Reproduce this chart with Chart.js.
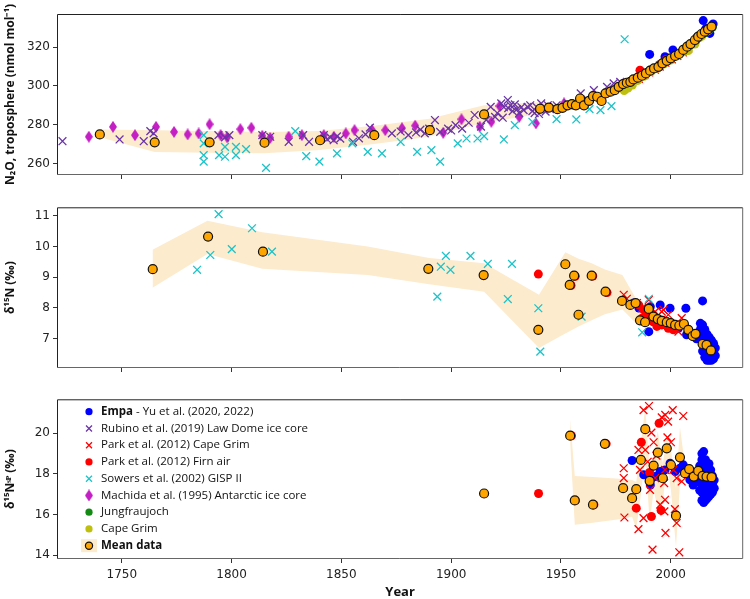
<!DOCTYPE html>
<html>
<head>
<meta charset="utf-8">
<script src="https://cdn.jsdelivr.net/npm/chart.js@4.4.1/dist/chart.umd.min.js"></script>
<style>
  html, body { margin: 0; padding: 0; background: #fff; }
  #wrap { position: relative; width: 750px; height: 599px; }
  canvas { position: absolute; left: 0; }
</style>
</head>
<body>
<div id="wrap">
  <canvas id="c1" width="750" height="195" style="top:0px"></canvas>
  <canvas id="c2" width="750" height="190" style="top:195px"></canvas>
  <canvas id="c3" width="750" height="214" style="top:385px"></canvas>
</div>
<script>
// ---- shared axis ----
const X_MIN = 1720.5, X_MAX = 2033;
const yearTicks = [1750, 1800, 1850, 1900, 1950, 2000];

// ---- panel 1: N2O mole fraction ----
const n2oTicks = [260, 280, 300, 320];
const n2oMean = [[1740,275],[1765,270.9],[1790,270.9],[1815,270.7],[1840.3,272],[1865,274.6],[1890.3,277.2],[1915,285.3],
  [1940.5,288.2],[1944.5,288.8],[1948.4,288],[1950.7,288.7],[1953,290],[1955,290.6],[1956.8,290],[1958.7,293.5],[1960.5,290],
  [1962.8,292.3],[1964.6,294.7],[1966.5,294.4],[1968.5,292.2],[1970.3,296.1],[1972.6,297],[1974.5,297.8],[1976.3,299.5],
  [1978.3,300.9],[1980,301.6],[1981.6,302.1],[1983,303.3],[1985,304.2],[1986.9,305.2],[1988.7,306.4],[1990.6,307.8],
  [1992.4,309],[1994.4,309.8],[1996.2,311.6],[1998.2,312.9],[2000,314.2],[2002,315.4],[2003.8,316.4],[2005.7,318.5],
  [2007.5,320.2],[2009,321.5],[2011,323.6],[2012.5,325.3],[2014,326.7],[2015.5,327.9],[2017,329.1],[2018.6,330.5]];
const n2oBandYear  = [1740, 1765, 1790, 1815, 1840, 1865, 1890, 1915, 1940, 1950, 1960, 1970, 1980, 1990, 2000, 2010, 2019];
const n2oBandLow   = [273.5, 266, 265.5, 265.3, 267, 270, 273.8, 281, 285.5, 286.5, 288.5, 294.5, 300, 306, 313, 321.5, 329];
const n2oBandHigh  = [277.5, 277.2, 276.8, 276.3, 276.8, 279.5, 283, 290, 291.5, 291, 293.5, 298, 303.5, 309.5, 315.5, 324, 332];
const n2oRubino = [[1723,271.5],[1749,272.4],[1760,271.5],[1763,276.7],[1764.5,275.5],[1794,274.6],[1797,273.5],[1799,274.6],
  [1814,274.6],[1817.6,273.8],[1826,271.2],[1832.6,274.6],[1835.3,271.2],[1842,274.6],[1843.5,272.5],[1845,273.5],[1846.5,272],
  [1848,274],[1849.5,272.8],[1855.3,271.2],[1858,273],[1861,275],[1863,278.5],[1873,275.5],[1877,276.5],[1880.5,274.6],
  [1884,276],[1886,277.5],[1888,275.5],[1890,278],[1892.6,282.4],[1895,276.3],[1898.6,278],[1900,277],[1902,279.8],[1905,278],
  [1908,281],[1910.7,285],[1913.6,279],[1916,282.5],[1918,289.2],[1920,284],[1921,286],[1922.8,291],[1923.5,283.6],[1924,289],
  [1925.8,292.7],[1926,288.5],[1927,290],[1928,287],[1929,290.5],[1930,288],[1931,286],[1932,289],[1933,287.5],[1934.8,289.2],
  [1936,290],[1937,287],[1938,286],[1939,289],[1940,285.5],[1941,291],[1942,288.5],[1943,286.7],[1944,290],[1945,288],
  [1948,290],[1953,291],[1959,296.1],[1962,293],[1965,297.8],[1968,294],[1971,299.5],[1974,301.3],[1977,302]];
const n2oMachida = [[1735,273.8],[1746,278.9],[1756,274.6],[1765.6,278.9],[1773.8,276.3],[1780,275],[1785,275.5],[1790,280.2],
  [1795,274.6],[1798,273.5],[1804,277.7],[1809,278.4],[1814,274.3],[1817.6,273.2],[1826,273.8],[1832,274.6],[1842,274.6],
  [1846.6,273.8],[1852,275.5],[1856,277.2],[1864,277.2],[1870,277.2],[1877.6,278.2],[1883.6,279.5],[1896.4,275.8],
  [1904.7,282.8],[1913,279],[1918.3,281.5],[1922,289.6],[1931,284],[1938.6,280.7],[1951.4,291]];
const n2oSowers = [[1787.3,274.6],[1787.3,270.4],[1787.3,264.3],[1787.3,261],[1794.3,264.3],[1797,268.6],[1797,263.5],
  [1802,268.6],[1802,264.3],[1806.6,267.4],[1815.7,257.8],[1829,276.7],[1834,263.8],[1840,261],[1848,265.2],[1855,270.4],
  [1862,266],[1868.5,265.2],[1877,271.2],[1884.5,266],[1891,266.9],[1895,261],[1903,270.4],[1907,272.9],[1912,272.9],
  [1915,274.1],[1924,272.4],[1929,279.8],[1937,281.5],[1948,282.9],[1957,282.7],[1963,288],[1968,287.5],[1973,289.6],[1979,324]];
const n2oParkCG = [[1978.8,300.2],[1982,301.5],[1985.5,303.6],[1988,305.5],[1990.2,306.9],[1992.8,308.3],[1995,309.9],
  [1997.6,311.9],[2000.5,313.6],[2003,315.4],[2005.5,317.2],[2008,319.2]];
const n2oParkFirn = [[1940.6,288.5],[1955.5,290.2],[1970.8,296.2],[1986,308.1],[1990.8,308.2],[1995,311],[1998,313.6]];
const n2oEmpa = [[1990.4,316.2],[1997.4,315],[2001,318.5],[2012,325],[2014.8,333.6],[2016,329.5],[2017.8,327],[2019.3,331.9]];
const n2oJungfrau = [[2005.2,317.6],[2006.8,319.1],[2008.3,320.4],[2009.8,321.7],[2011.3,323.1],[2012.9,324.9],[2014.4,326.3],
  [2015.9,327.5],[2017.4,328.8],[2018.9,330.2]];
const n2oCapeGrim = [[1978.8,297.6],[1980.5,298.8],[1982.5,300.4],[1985,302.8],[1988,305],[1991,307.3],[1994,309.2],
  [1997,311.3],[2000,313.3],[2003,315.5],[2006,317.6],[2008,318.2],[2011,321.5],[2014,325.5],[2017,328.5]];

// ---- panel 2: d15N ----
const d15Ticks = [7, 8, 9, 10, 11];
const d15Mean = [[1764.1,9.26],[1789.3,10.32],[1814.3,9.83],[1889.6,9.27],[1914.8,9.07],[1939.7,7.29],[1952,9.42],[1954,8.75],
  [1956,9.05],[1958,7.78],[1964,9.05],[1970.3,8.53],[1977.8,8.23],[1981.6,8.1],[1984,8.16],[1986,7.6],[1988.3,7.54],[1990,7.97],
  [1992.1,7.72],[1994.1,7.64],[1995.9,7.58],[1998.2,7.54],[2000,7.51],[2002,7.45],[2003.9,7.43],[2006,7.48],[2008,7.29],
  [2010,7.09],[2011.3,7.16],[2014.5,6.83],[2016.3,6.8],[2018.3,6.62]];
const d15BandYear = [1764, 1789, 1814, 1862, 1890, 1915, 1940, 1952, 1958, 1964, 1970, 1978, 1985, 1990, 1995, 2000, 2005, 2010, 2014, 2018.3];
const d15BandLow  = [8.66, 9.75, 9.27, 9.07, 8.77, 8.53, 6.7, 7.17, 7.4, 7.6, 7.8, 7.95, 7.45, 7.55, 7.45, 7.4, 7.35, 6.95, 6.7, 6.5];
const d15BandHigh = [9.89, 10.83, 10.46, 10.0, 9.62, 9.45, 8.43, 9.81, 9.6, 9.45, 9.25, 9.07, 8.2, 8.1, 7.8, 7.65, 7.6, 7.25, 6.95, 6.75];
const d15Sowers = [[1784.3,9.24],[1790.3,9.72],[1794.1,11.05],[1800.1,9.91],[1809.3,10.59],[1818.4,9.83],[1893.7,8.37],
  [1895.3,9.34],[1897.6,9.69],[1899.7,9.24],[1908.8,9.69],[1916.7,9.43],[1925.8,8.29],[1927.7,9.43],[1939.7,7.99],
  [1940.6,6.58],[1959.4,7.72],[1987,7.21],[1990,8.3]];
const d15ParkFirn = [[1939.7,9.1],[1954.6,8.73],[1956.5,9.03],[1964.5,9.04],[1971,8.5],[1985.4,8.1],[1986.9,7.67],[1987.7,7.94],
  [1989,7.75],[1990.6,7.83],[1992,7.55],[1993.7,7.4],[1995.9,7.45],[1996.5,7.6],[1998.9,7.34],[2001.2,7.29]];
const d15ParkCG = [[1978.6,8.43],[1980,8.3],[1984.6,8.16],[1987,8.0],[1989,7.85],[1990,8.26],[1992.9,7.88],[1994.4,7.61],
  [1995.9,7.88],[1996.7,7.94],[1998.9,7.78],[2002,7.4],[2003.5,7.23],[2005,7.67]];
const d15Empa = [[1983.1,8.16],[1985.5,8.0],[1990,7.23],[1990.7,8.04],[1995.2,8.1],[1997.4,7.45],[1999.7,7.99],[2003.5,7.34],
  [2006.9,7.99],[2007.2,7.13],[2010.2,7.07],[2011.7,7.0],[2014.5,8.23],
  [2013.5,7.0],[2013.5,7.3],[2013.5,7.5],[2014.5,6.6],[2014.5,6.9],[2014.5,7.2],[2014.5,7.45],
  [2015.5,6.4],[2015.5,6.7],[2015.5,7.0],[2015.5,7.3],[2016.5,6.3],[2016.5,6.55],[2016.5,6.85],[2016.5,7.15],
  [2017.5,6.3],[2017.5,6.55],[2017.5,6.8],[2017.5,7.05],[2018.5,6.3],[2018.5,6.5],[2018.5,6.75],[2018.5,6.95],
  [2019.5,6.35],[2019.5,6.6],[2019.5,6.85],[2020.3,6.45],[2020.3,6.7]];

// ---- panel 3: d15N site preference ----
const spTicks = [14, 16, 18, 20];
const spMean = [[1915,17.04],[1954.2,19.88],[1956.3,16.7],[1964.6,16.49],[1970,19.48],[1978.3,17.3],[1982.4,16.81],
  [1984.3,17.25],[1986.4,18.69],[1988.4,20.2],[1990.4,17.66],[1992.2,18.41],[1994.1,19.05],[1996.4,17.79],[1998.2,19.26],
  [2000.1,18.44],[2002.4,15.95],[2004.2,18.82],[2006.5,18.04],[2008.4,18.24],[2010.5,17.87],[2012.5,18.15],[2014.5,17.91],
  [2016.3,17.87],[2018.6,17.84]];
const spBandYear = [1954.2, 1956.3, 1964.6, 1978.3, 1982.4, 1984.3, 1986.4, 1988.4, 1990.4, 1992.2, 1994.1, 1996.4, 1998.2,
  2000.1, 2002.4, 2004.2, 2006.5, 2008.4, 2010.5, 2012.5, 2014.5, 2016.3, 2018.6];
const spBandLow  = [19.5, 15.5, 15.6, 15.8, 15.9, 15.3, 17.0, 19.0, 15.6, 17.2, 16.3, 16.6, 18.6, 17.2, 14.4, 17.5, 17.7, 18.0, 17.6, 17.9, 17.7, 17.7, 17.7];
const spBandHigh = [20.7, 17.9, 17.85, 17.75, 17.7, 17.6, 19.5, 21.3, 18.2, 19.0, 20.1, 18.5, 19.8, 19.2, 17.3, 20.3, 18.4, 18.5, 18.1, 18.4, 18.1, 18.05, 18.0];
const spParkFirn = [[1939.8,17.04],[1954.8,19.88],[1956.5,16.7],[1965,16.49],[1970.6,19.48],[1984.3,16.32],[1986.6,19.56],
  [1990.4,18.07],[1991.2,15.91],[1994.7,20.49],[1995.6,16.21]];
const spParkCG = [[1987.6,21.14],[1990.1,21.34],[1995.9,20.78],[1997.5,20.9],[1998.8,20.57],[2000.9,21.14],[2005.7,20.85],
  [1991.2,20.03],[1998.5,19.8],[2000.1,19.56],[1992.2,19.56],[1985.3,19.18],[1988.4,19.18],[1978.6,18.28],[1978.6,17.8],
  [1986,18.2],[1978.9,15.86],[1987.6,15.83],[1985.3,15.29],[1991.7,14.28],[1997.6,15.1],[2001.9,16.27],[2002.7,15.59],
  [2003.9,14.15],[1997,17.55],[1997.4,16.73],[1995.2,16.49],[2002.7,17.8],[2001.2,18.2],[1997.4,18.2],[1992.9,17.8],
  [1997.1,16.16],[1990.6,17.22],[2005,17.63],[1993.5,18.9],[1989.5,18.6]];
const spEmpa = [[1982.4,18.66],[1987.7,17.96],[1990.7,17.71],[1990.7,17.46],[1992.9,17.87],[1995.2,18.12],[1997.4,18.2],
  [1999.7,18.53],[2002,18.12],[2004.2,18.28],[2005.7,18.45],[2008.7,17.71],[2010.2,17.46],[2011.5,18.0],[2012.5,17.8],
  [2013.2,17.2],[2013.2,17.6],[2013.2,18.0],[2013.2,18.4],
  [2014.2,16.7],[2014.2,17.1],[2014.2,17.5],[2014.2,17.9],[2014.2,18.3],[2014.2,18.7],[2014.2,19.0],
  [2015,16.6],[2015,17.0],[2015,17.4],[2015,17.8],[2015,18.2],[2015,18.6],[2015,19.1],
  [2015.8,16.7],[2015.8,17.1],[2015.8,17.5],[2015.8,17.9],[2015.8,18.3],[2015.8,18.7],
  [2016.6,16.8],[2016.6,17.2],[2016.6,17.6],[2016.6,18.0],[2016.6,18.4],
  [2017.4,16.9],[2017.4,17.3],[2017.4,17.7],[2017.4,18.1],[2017.4,18.5],
  [2018.2,17.0],[2018.2,17.4],[2018.2,17.8],[2018.2,18.2],[2019,17.1],[2019,17.5],[2019,17.9],[2019.8,17.3],[2019.8,17.7]];

// ---- marker styles ----
const BAND = '#fdebcd';
function diamond(color) {
  const c = document.createElement('canvas');
  c.width = 8; c.height = 12;
  const g = c.getContext('2d');
  g.fillStyle = color;
  g.beginPath(); g.moveTo(4, 0); g.lineTo(8, 6); g.lineTo(4, 12); g.lineTo(0, 6); g.closePath(); g.fill();
  return c;
}
const S = {
  empa:     { pointStyle: 'circle',   pointRadius: 4.5, pointBackgroundColor: '#0000ff', pointBorderColor: '#0000ff', pointBorderWidth: 0 },
  rubino:   { pointStyle: 'crossRot', pointRadius: 5.5, pointBackgroundColor: '#6a35a6', pointBorderColor: '#6a35a6', pointBorderWidth: 1.3 },
  parkCG:   { pointStyle: 'crossRot', pointRadius: 5.5, pointBackgroundColor: '#ff0000', pointBorderColor: '#ff0000', pointBorderWidth: 1.3 },
  parkFirn: { pointStyle: 'circle',   pointRadius: 4.5, pointBackgroundColor: '#ff0000', pointBorderColor: '#ff0000', pointBorderWidth: 0 },
  sowers:   { pointStyle: 'crossRot', pointRadius: 5.5, pointBackgroundColor: '#1fc3c8', pointBorderColor: '#1fc3c8', pointBorderWidth: 1.3 },
  machida:  { pointStyle: diamond('#c41fc4'), pointRadius: 5, pointBackgroundColor: '#c41fc4', pointBorderColor: '#c41fc4', pointBorderWidth: 0 },
  jungfrau: { pointStyle: 'circle',   pointRadius: 4.5, pointBackgroundColor: '#138a13', pointBorderColor: '#138a13', pointBorderWidth: 0 },
  capeGrim: { pointStyle: 'circle',   pointRadius: 4.5, pointBackgroundColor: '#bfbf10', pointBorderColor: '#bfbf10', pointBorderWidth: 0 },
  mean:     { pointStyle: 'circle',   pointRadius: 4.5, pointBackgroundColor: '#ffa500', pointBorderColor: '#111111', pointBorderWidth: 1.2 }
};

function series(pairs, style, order) {
  return Object.assign({ data: pairs.map(p => ({ x: p[0], y: p[1] })), order, showLine: false }, style);
}
function band(years, lo, hi) {
  const base = { type: 'line', borderWidth: 0, borderColor: 'transparent', pointRadius: 0, tension: 0, order: 50 };
  return [
    Object.assign({ data: years.map((x, i) => ({ x, y: lo[i] })), fill: false }, base),
    Object.assign({ data: years.map((x, i) => ({ x, y: hi[i] })), fill: '-1', backgroundColor: BAND }, base)
  ];
}

const framePlugin = {
  id: 'frame',
  afterDatasetsDraw(chart) {
    const { ctx, chartArea: a } = chart;
    ctx.save();
    ctx.lineWidth = 1;
    ctx.strokeStyle = '#222';
    ctx.beginPath();
    ctx.moveTo(a.left + 0.5, a.bottom);
    ctx.lineTo(a.left + 0.5, a.top + 0.5);
    ctx.lineTo(a.right - 0.5, a.top + 0.5);
    ctx.stroke();
    ctx.strokeStyle = '#666';
    ctx.beginPath();
    ctx.moveTo(a.right - 0.5, a.top + 0.5);
    ctx.lineTo(a.right - 0.5, a.bottom - 0.5);
    ctx.lineTo(a.left, a.bottom - 0.5);
    ctx.stroke();
    ctx.restore();
  }
};

const TICK_FONT = { family: 'DejaVu Sans', size: 12 };
const TITLE_FONT = { family: 'Open Sans', size: 12, weight: 'bold', lineHeight: 1.2 };

function makePanel(id, o) {
  return new Chart(document.getElementById(id), {
    type: 'scatter',
    data: { datasets: o.datasets },
    options: {
      responsive: false,
      animation: false,
      events: [],
      layout: { padding: { left: 0, right: 2, top: o.top, bottom: 0 } },
      plugins: { legend: { display: false }, tooltip: { enabled: false } },
      scales: {
        x: {
          type: 'linear', min: X_MIN, max: X_MAX,
          afterBuildTicks: s => { s.ticks = yearTicks.map(v => ({ value: v })); },
          afterFit: s => { s.height = o.xHeight; },
          border: { display: false },
          grid: { drawOnChartArea: false, drawTicks: true, tickLength: 4, color: '#333' },
          ticks: { display: o.xLabels, autoSkip: false, maxRotation: 0, color: '#222', font: TICK_FONT, padding: 5,
                   callback: v => String(v) },
          title: { display: o.xLabels, text: 'Year', color: '#111', padding: { top: 0, bottom: 0 },
                   font: { family: 'Open Sans', size: 13, weight: 'bold', lineHeight: 1 } }
        },
        y: {
          type: 'linear', min: o.yMin, max: o.yMax,
          afterBuildTicks: s => { s.ticks = o.yTicks.map(v => ({ value: v })); },
          afterFit: s => { s.width = 57; },
          border: { display: false },
          grid: { drawOnChartArea: false, drawTicks: true, tickLength: 4, color: '#333' },
          ticks: { color: '#222', font: TICK_FONT, padding: 3, callback: v => String(v) },
          title: { display: true, text: o.yTitle, color: '#111', font: TITLE_FONT, padding: { top: 3, bottom: 0 } }
        }
      }
    },
    plugins: [framePlugin].concat(o.plugins || [])
  });
}

// ---- legend drawn inside panel 3 ----
const legendRows = [
  { style: S.empa, bold: 'Empa', text: ' - Yu et al. (2020, 2022)' },
  { style: S.rubino, text: 'Rubino et al. (2019) Law Dome ice core' },
  { style: S.parkCG, text: 'Park et al. (2012) Cape Grim' },
  { style: S.parkFirn, text: 'Park et al. (2012) Firn air' },
  { style: S.sowers, text: 'Sowers et al. (2002) GISP II' },
  { style: S.machida, text: 'Machida et al. (1995) Antarctic ice core' },
  { style: S.jungfrau, text: 'Jungfraujoch' },
  { style: S.capeGrim, text: 'Cape Grim' },
  { style: S.mean, bold: 'Mean data', text: '', band: true }
];
const legendPlugin = {
  id: 'innerLegend',
  afterDraw(chart) {
    const ctx = chart.ctx;
    const mx = 89, tx = 101, y0 = 26.7, dy = 16.75;
    ctx.save();
    ctx.textBaseline = 'middle';
    legendRows.forEach((r, i) => {
      const y = y0 + i * dy;
      if (r.band) { ctx.fillStyle = BAND; ctx.fillRect(81, y - 6.5, 16, 13); }
      const st = r.style;
      ctx.fillStyle = st.pointBackgroundColor;
      ctx.strokeStyle = st.pointBorderColor;
      ctx.lineWidth = st.pointBorderWidth || 1;
      const small = st.pointStyle === 'crossRot' ? 4.2 : 3.6;
      Chart.helpers.drawPoint(ctx, { pointStyle: st.pointStyle, radius: small, borderWidth: st.pointBorderWidth, rotation: 0 }, mx, y);
      let x = tx;
      ctx.fillStyle = '#111';
      if (r.bold) {
        ctx.font = 'bold 11.5px "Open Sans"';
        ctx.fillText(r.bold, x, y);
        x += ctx.measureText(r.bold).width;
      }
      ctx.font = '11.5px "Open Sans"';
      ctx.fillText(r.text, x, y);
    });
    ctx.restore();
  }
};

makePanel('c1', {
  top: 14, xHeight: 20, xLabels: false, yMin: 254.1, yMax: 337, yTicks: n2oTicks,
  yTitle: 'N\u2082O, troposphere (nmol mol\u207B\u00B9)',
  datasets: band(n2oBandYear, n2oBandLow, n2oBandHigh).concat([
    series(n2oEmpa, S.empa, 9),
    series(n2oParkFirn, S.parkFirn, 8),
    series(n2oParkCG, S.parkCG, 7),
    series(n2oMachida, S.machida, 6),
    series(n2oRubino, S.rubino, 5),
    series(n2oSowers, S.sowers, 4),
    series(n2oJungfrau, S.jungfrau, 3),
    series(n2oCapeGrim, S.capeGrim, 2),
    series(n2oMean, S.mean, 0)
  ])
});

makePanel('c2', {
  top: 12.3, xHeight: 17, xLabels: false, yMin: 6.05, yMax: 11.27, yTicks: d15Ticks,
  yTitle: '\u03B4\u00B9\u2075N (\u2030)',
  datasets: band(d15BandYear, d15BandLow, d15BandHigh).concat([
    series(d15Empa, S.empa, 9),
    series(d15ParkFirn, S.parkFirn, 8),
    series(d15ParkCG, S.parkCG, 7),
    series(d15Sowers, S.sowers, 4),
    series(d15Mean, S.mean, 0)
  ])
});

makePanel('c3', {
  top: 14.3, xHeight: 40, xLabels: true, yMin: 13.82, yMax: 21.67, yTicks: spTicks,
  yTitle: '\u03B4\u00B9\u2075N\u02E2\u1D3E (\u2030)',
  plugins: [legendPlugin],
  datasets: band(spBandYear, spBandLow, spBandHigh).concat([
    series(spEmpa, S.empa, 9),
    series(spParkFirn, S.parkFirn, 8),
    series(spParkCG, S.parkCG, 7),
    series(spMean, S.mean, 0)
  ])
});
</script>
</body>
</html>
